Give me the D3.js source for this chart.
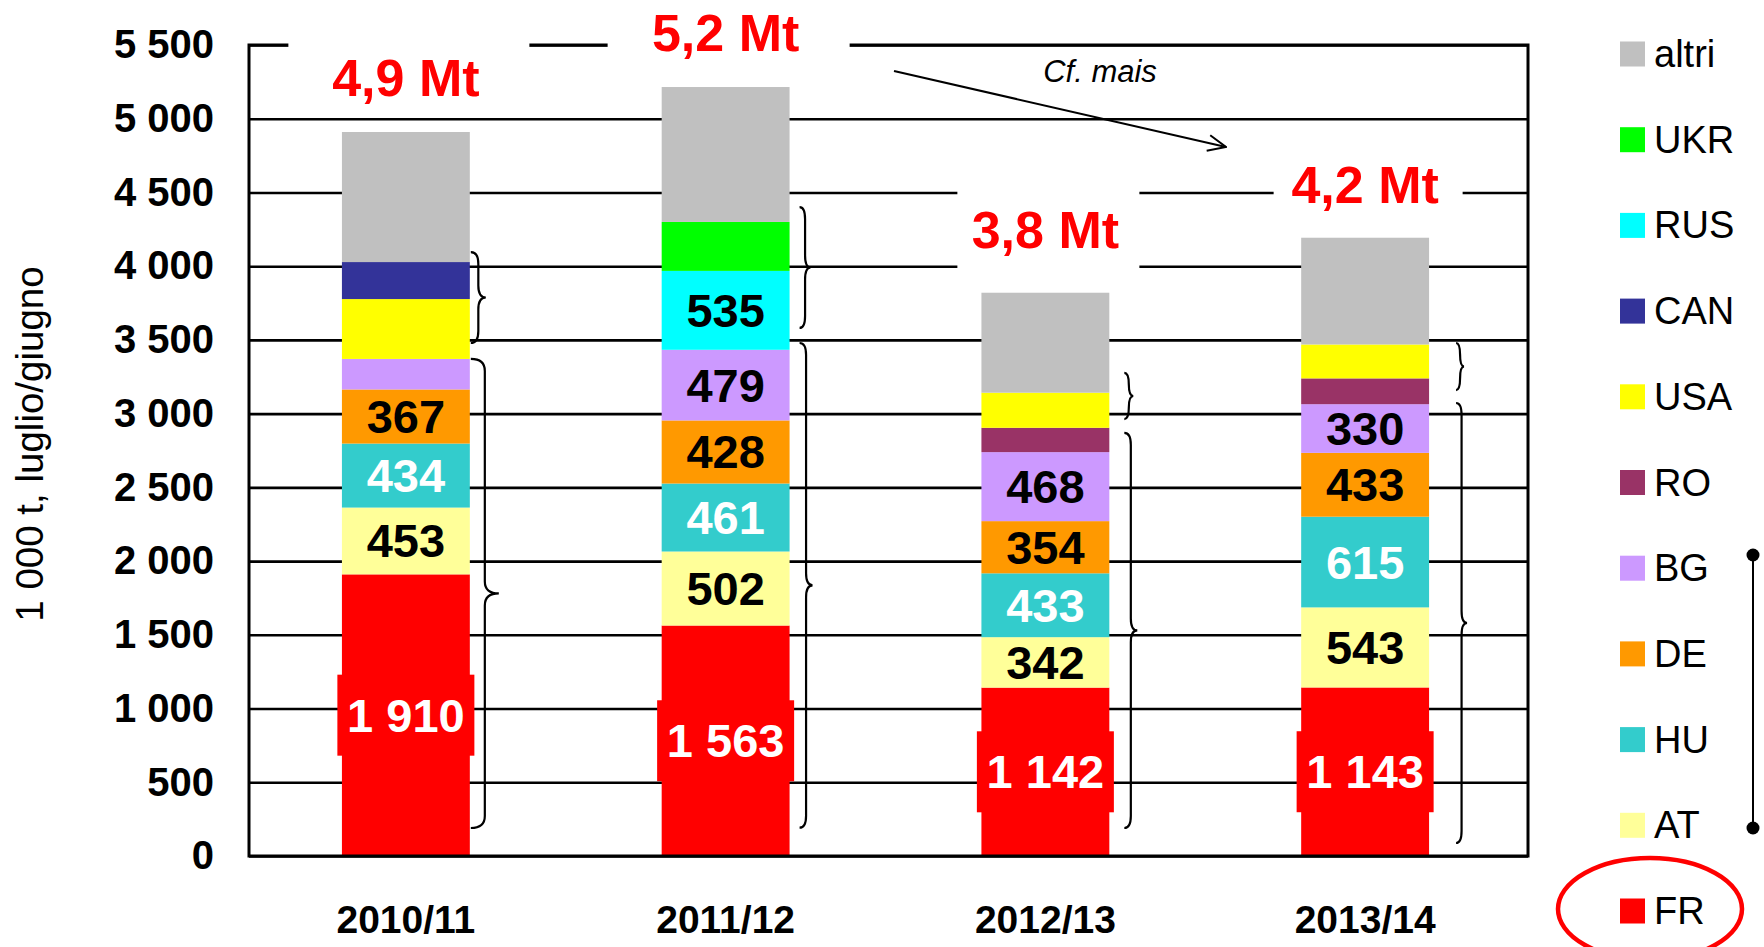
<!DOCTYPE html>
<html>
<head>
<meta charset="utf-8">
<script src="https://cdn.jsdelivr.net/npm/d3@7"></script>
<style>
  body { margin: 0; background: #fff; }
  svg { display: block; font-family: "Liberation Sans", Arial, sans-serif; }
</style>
</head>
<body>
<svg id="chart" width="1764" height="947"></svg>
<script>
const years = ["2010/11", "2011/12", "2012/13", "2013/14"];

// stack order, bottom to top (1 000 t)
const FR = [1910, 1563, 1142, 1143];
const AT = [453, 502, 342, 543];
const HU = [434, 461, 433, 615];
const DE = [367, 428, 354, 433];
const BG = [207, 479, 468, 330];
const RO = [0, 0, 165, 175];
const USA = [406, 0, 238, 230];
const CAN = [251, 0, 0, 0];
const RUS = [0, 535, 0, 0];
const UKR = [0, 332, 0, 0];
const altri = [882, 915, 678, 724];

const totals = ["4,9 Mt", "5,2 Mt", "3,8 Mt", "4,2 Mt"];
const yTicks = [0, 500, 1000, 1500, 2000, 2500, 3000, 3500, 4000, 4500, 5000, 5500];

// which segments carry a value label
const labeled = ["FR", "AT", "HU", "DE", "BG", "RUS"];
const unlabeled = [["BG", "2010/11"]];

// braces drawn next to each bar: [from, to] in 1 000 t
const braceSmall = [[3479, 4096], [3581, 4401], [2963, 3276], [3160, 3479]];
const braceLarge = [[190, 3371], [192, 3479], [190, 2869], [88, 3072]];

const series = [
  { key: "FR", values: FR, color: "#ff0000", text: "#fff" },
  { key: "AT", values: AT, color: "#ffff99", text: "#000" },
  { key: "HU", values: HU, color: "#33cccc", text: "#fff" },
  { key: "DE", values: DE, color: "#ff9900", text: "#000" },
  { key: "BG", values: BG, color: "#cc99ff", text: "#000" },
  { key: "RO", values: RO, color: "#993366", text: "#000" },
  { key: "USA", values: USA, color: "#ffff00", text: "#000" },
  { key: "CAN", values: CAN, color: "#333399", text: "#fff" },
  { key: "RUS", values: RUS, color: "#00ffff", text: "#000" },
  { key: "UKR", values: UKR, color: "#00ff00", text: "#000" },
  { key: "altri", values: altri, color: "#c0c0c0", text: "#000" }
];

const table = years.map((yr, i) => {
  const row = { year: yr };
  series.forEach((s) => { row[s.key] = s.values[i]; });
  return row;
});

// layout
const plotL = 249, plotR = 1528, plotT = 45, plotB = 856;
const totalLift = [54, 54, 63, 53];
const totalBoxW = [241, 242, 182, 189];
const braceGap = [1, 10, 15, 27];
const braceW = [[15, 28], [11, 13], [9, 13], [8, 11]];

const svg = d3.select("#chart");
const fmt = d3.formatLocale({ decimal: ",", thousands: " ", grouping: [3], currency: ["", ""] }).format(",");

const x = d3.scaleBand().domain(years).range([plotL - 3, plotR - 3]);
const y = d3.scaleLinear().domain([0, 5500]).range([plotB, plotT]);
const barW = x.bandwidth() * 0.4;
const colorOf = d3.scaleOrdinal().domain(series.map((s) => s.key)).range(series.map((s) => s.color));

// gridlines + tick labels
const yAxis = svg.append("g")
  .attr("transform", `translate(${plotL},0)`)
  .call(d3.axisLeft(y).tickValues(yTicks).tickSize(-(plotR - plotL)).tickPadding(35).tickFormat(fmt));
yAxis.select(".domain").remove();
yAxis.selectAll(".tick line").attr("stroke", "#000").attr("stroke-width", 2.6);
yAxis.selectAll(".tick text")
  .attr("font-size", 40).attr("font-weight", "bold").attr("fill", "#000")
  .attr("font-family", "'Liberation Sans', Arial, sans-serif");

// stacked bars
const stacked = d3.stack().keys(series.map((s) => s.key))(table);
const layers = svg.append("g").selectAll("g")
  .data(stacked)
  .join("g")
  .attr("fill", (d) => colorOf(d.key));

layers.selectAll("rect")
  .data((d) => d)
  .join("rect")
  .attr("x", (d) => x(d.data.year) + (x.bandwidth() - barW) / 2)
  .attr("y", (d) => y(d[1]))
  .attr("width", barW)
  .attr("height", (d) => y(d[0]) - y(d[1]));

// frame
svg.append("rect")
  .attr("x", plotL).attr("y", plotT)
  .attr("width", plotR - plotL).attr("height", plotB - plotT)
  .attr("fill", "none").attr("stroke", "#000").attr("stroke-width", 3);

// segment labels
const labelData = [];
stacked.forEach((layer) => {
  if (!labeled.includes(layer.key)) return;
  const s = series.find((t) => t.key === layer.key);
  layer.forEach((d) => {
    const yr = d.data.year;
    if (unlabeled.some((u) => u[0] === layer.key && u[1] === yr)) return;
    if (d[1] - d[0] <= 0) return;
    labelData.push({ key: layer.key, year: yr, value: d[1] - d[0], mid: (d[0] + d[1]) / 2, color: s.color, text: s.text });
  });
});

const segLabels = svg.append("g").selectAll("g")
  .data(labelData)
  .join("g")
  .attr("transform", (d) => `translate(${x(d.year) + x.bandwidth() / 2},${y(d.mid)})`);

segLabels.filter((d) => d.key === "FR")
  .append("rect")
  .attr("x", -68.5).attr("y", -40.5)
  .attr("width", 137).attr("height", 81)
  .attr("fill", (d) => d.color);

segLabels.append("text")
  .attr("text-anchor", "middle")
  .attr("dominant-baseline", "central")
  .attr("font-size", 47)
  .attr("font-weight", "bold")
  .attr("fill", (d) => d.text)
  .text((d) => fmt(d.value));

// totals on top
const tops = stacked[stacked.length - 1];
const totalG = svg.append("g").selectAll("g")
  .data(years)
  .join("g")
  .attr("transform", (yr, i) => `translate(${x(yr) + x.bandwidth() / 2},${y(tops[i][1]) - totalLift[i]})`);
totalG.append("rect")
  .attr("x", (d, i) => -totalBoxW[i] / 2 + 3).attr("y", -40)
  .attr("width", (d, i) => totalBoxW[i]).attr("height", 80)
  .attr("fill", "#fff");
totalG.append("text")
  .attr("text-anchor", "middle")
  .attr("dominant-baseline", "central")
  .attr("font-size", 52)
  .attr("font-weight", "bold")
  .attr("fill", "#ff0000")
  .text((d, i) => totals[i]);

// braces
function brace(x0, w, v0, v1) {
  const yT = y(v1), yB = y(v0), yM = (yT + yB) / 2;
  const xm = x0 + w / 2, x1 = x0 + w;
  const r = Math.min(12, (yB - yT) / 4);
  return `M${x0},${yT} Q${xm},${yT} ${xm},${yT + r} L${xm},${yM - r} Q${xm},${yM} ${x1},${yM}` +
    ` Q${xm},${yM} ${xm},${yM + r} L${xm},${yB - r} Q${xm},${yB} ${x0},${yB}`;
}
const braceG = svg.append("g").attr("fill", "none").attr("stroke", "#000").attr("stroke-width", 2.2);
years.forEach((yr, i) => {
  const x0 = x(yr) + (x.bandwidth() + barW) / 2 + braceGap[i];
  braceG.append("path").attr("d", brace(x0, braceW[i][0], braceSmall[i][0], braceSmall[i][1]));
  braceG.append("path").attr("d", brace(x0, braceW[i][1], braceLarge[i][0], braceLarge[i][1]));
});

// "Cf. mais" note with arrow
svg.append("defs").append("marker")
  .attr("id", "arrow").attr("viewBox", "0 0 20 20")
  .attr("refX", 19).attr("refY", 10)
  .attr("markerWidth", 20).attr("markerHeight", 20)
  .attr("markerUnits", "userSpaceOnUse")
  .attr("orient", "auto")
  .append("path").attr("d", "M1,2 L19,10 L1,18")
  .attr("fill", "none").attr("stroke", "#000").attr("stroke-width", 2);
svg.append("line")
  .attr("x1", 894).attr("y1", 71).attr("x2", 1226).attr("y2", 147)
  .attr("stroke", "#000").attr("stroke-width", 2).attr("marker-end", "url(#arrow)");
svg.append("text")
  .attr("x", 1100).attr("y", 82)
  .attr("text-anchor", "middle")
  .attr("font-size", 31).attr("font-style", "italic")
  .text("Cf. mais");

// x labels
svg.append("g").selectAll("text")
  .data(years)
  .join("text")
  .attr("x", (d) => x(d) + x.bandwidth() / 2)
  .attr("y", 933)
  .attr("text-anchor", "middle")
  .attr("font-size", 39)
  .attr("font-weight", "bold")
  .text((d) => d);

// y title
svg.append("text")
  .attr("transform", "translate(29,444) rotate(-90)")
  .attr("text-anchor", "middle")
  .attr("dominant-baseline", "central")
  .attr("font-size", 38.5)
  .text("1 000 t, luglio/giugno");

// legend
const legendItems = series.slice().reverse();
const legend = svg.append("g").selectAll("g")
  .data(legendItems)
  .join("g")
  .attr("transform", (d, i) => `translate(1620,${54 + i * 85.7})`);
legend.append("rect")
  .attr("x", 0).attr("y", -12.5).attr("width", 25).attr("height", 25)
  .attr("fill", (d) => d.color);
legend.append("text")
  .attr("x", 34).attr("y", 0)
  .attr("dominant-baseline", "central")
  .attr("font-size", 38)
  .text((d) => d.key);

// bracket BG..AT and ring around FR
const bracket = svg.append("g");
bracket.append("line")
  .attr("x1", 1753).attr("y1", 555).attr("x2", 1753).attr("y2", 828)
  .attr("stroke", "#000").attr("stroke-width", 2);
bracket.selectAll("circle")
  .data([555, 828])
  .join("circle")
  .attr("cx", 1753).attr("cy", (d) => d).attr("r", 6.5)
  .attr("fill", "#000");
svg.append("ellipse")
  .attr("cx", 1650).attr("cy", 909).attr("rx", 92).attr("ry", 51)
  .attr("fill", "none").attr("stroke", "#ff0000").attr("stroke-width", 4.5);
</script>
</body>
</html>
